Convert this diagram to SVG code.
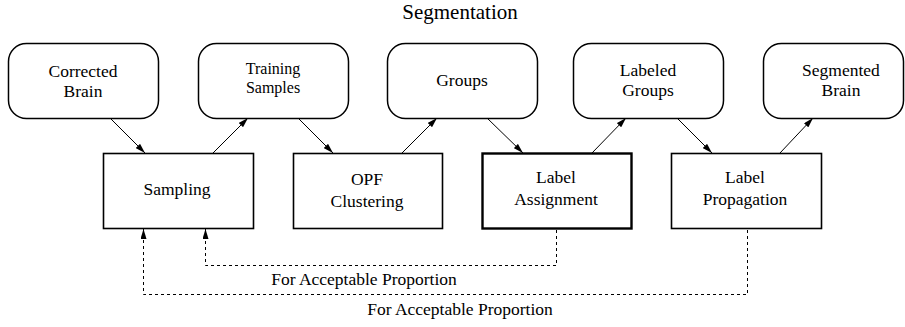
<svg xmlns="http://www.w3.org/2000/svg" width="905" height="327" viewBox="0 0 905 327">
  <style>
    text { font-family: "Liberation Serif", "DejaVu Serif", serif; font-size: 17.5px; fill: #000; text-anchor: middle; }
    .title { font-size: 21px; }
    .tight { font-size: 16px; }
    .data { fill: #fff; stroke: #000; stroke-width: 1.5; }
    .proc { fill: #fff; stroke: #000; stroke-width: 1.6; }
    .proc.bold { stroke-width: 2.4; }
    .flow { fill: none; stroke: #000; stroke-width: 1; marker-end: url(#head); }
    .loop { fill: none; stroke: #000; stroke-width: 1; stroke-dasharray: 3 3; marker-end: url(#head); }
  </style>
  <defs>
    <marker id="head" viewBox="0 0 10 6" refX="10" refY="3" markerWidth="10" markerHeight="6" markerUnits="userSpaceOnUse" orient="auto">
      <path d="M0,0 L10,3 L0,6 Z" fill="#000"/>
    </marker>
  </defs>

  <text class="title" x="460" y="19">Segmentation</text>

  <!-- data nodes -->
  <g id="corrected-brain">
    <rect class="data" x="8.5" y="43.5" width="150" height="75" rx="18"/>
    <text x="83" y="77">Corrected</text>
    <text x="83" y="97">Brain</text>
  </g>
  <g id="training-samples">
    <rect class="data" x="198.5" y="43.5" width="150" height="75" rx="18"/>
    <text class="tight" x="273" y="74">Training</text>
    <text class="tight" x="273" y="93">Samples</text>
  </g>
  <g id="groups">
    <rect class="data" x="387.5" y="43.5" width="150" height="75" rx="18"/>
    <text x="462" y="86">Groups</text>
  </g>
  <g id="labeled-groups">
    <rect class="data" x="573.5" y="43.5" width="150" height="75" rx="18"/>
    <text x="648" y="76">Labeled</text>
    <text x="648" y="96">Groups</text>
  </g>
  <g id="segmented-brain">
    <rect class="data" x="763.5" y="43.5" width="140" height="75" rx="18"/>
    <text x="841" y="76">Segmented</text>
    <text x="841" y="96">Brain</text>
  </g>

  <!-- process nodes -->
  <g id="sampling">
    <rect class="proc" x="103.5" y="153.5" width="150" height="75"/>
    <text x="177" y="195">Sampling</text>
  </g>
  <g id="opf-clustering">
    <rect class="proc" x="293.5" y="153.5" width="149" height="75"/>
    <text x="367" y="185">OPF</text>
    <text x="367" y="207">Clustering</text>
  </g>
  <g id="label-assignment">
    <rect class="proc bold" x="482.5" y="153.5" width="149" height="75"/>
    <text x="556" y="183">Label</text>
    <text x="556" y="205">Assignment</text>
  </g>
  <g id="label-propagation">
    <rect class="proc" x="671.5" y="153.5" width="150" height="75"/>
    <text x="745" y="183">Label</text>
    <text x="745" y="205">Propagation</text>
  </g>

  <!-- connectors -->
  <g id="connectors">
    <line class="flow" x1="110" y1="118" x2="145" y2="153"/>
    <line class="flow" x1="213" y1="153" x2="248" y2="118"/>
    <line class="flow" x1="298" y1="118" x2="333" y2="153"/>
    <line class="flow" x1="402" y1="153" x2="437" y2="118"/>
    <line class="flow" x1="487" y1="118" x2="523" y2="153"/>
    <line class="flow" x1="592" y1="153" x2="626" y2="118"/>
    <line class="flow" x1="677" y1="118" x2="712" y2="153"/>
    <line class="flow" x1="780" y1="153" x2="813" y2="118"/>

    <polyline class="loop" points="556.5,230 556.5,265.5 205.5,265.5 205.5,229"/>
    <polyline class="loop" points="747.5,230 747.5,294.5 143.5,294.5 143.5,229"/>
    <text x="364" y="285">For Acceptable Proportion</text>
    <text x="460" y="315">For Acceptable Proportion</text>
  </g>
</svg>
